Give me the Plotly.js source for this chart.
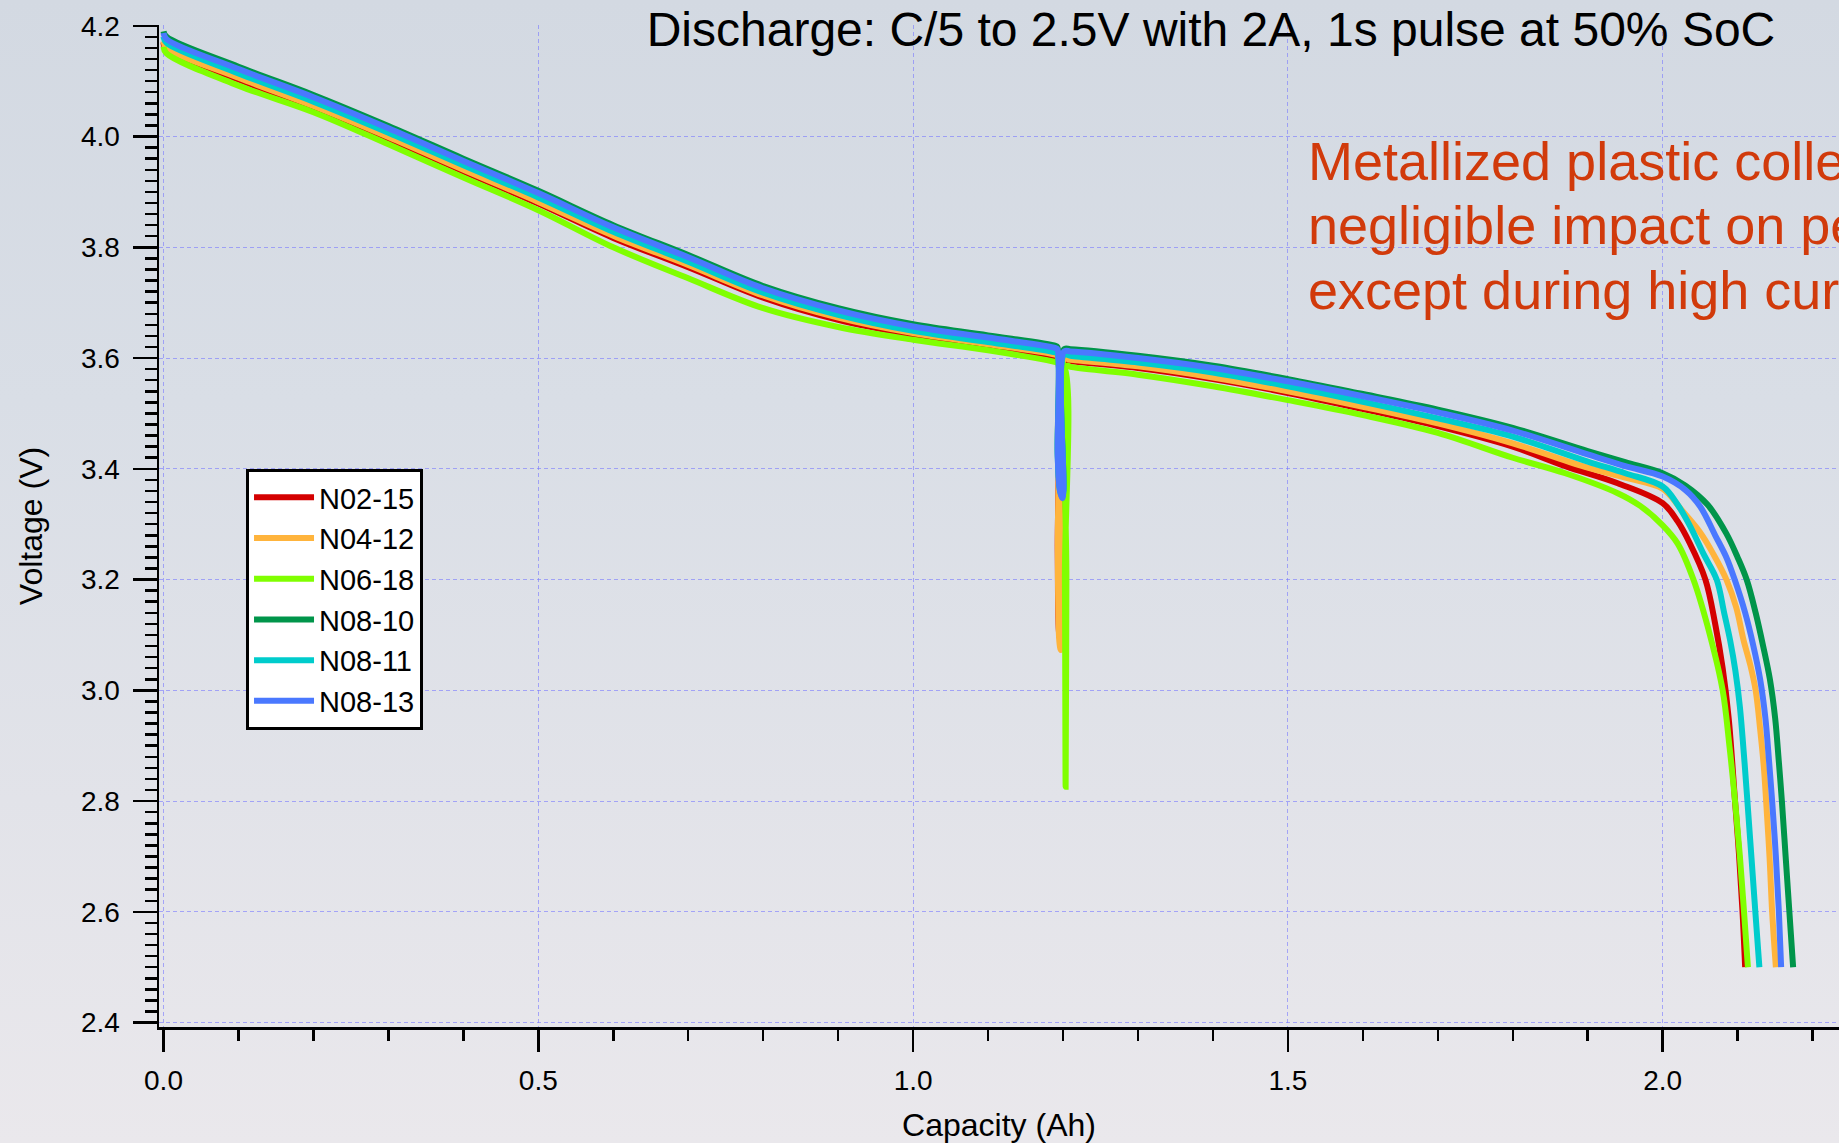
<!DOCTYPE html>
<html>
<head>
<meta charset="utf-8">
<script src="https://cdn.plot.ly/plotly-3.0.1.min.js"></script>
<style>
  html, body { margin: 0; padding: 0; overflow: hidden; }
  body { width: 1839px; height: 1143px;
    background: linear-gradient(180deg, #d3d9e2 0%, #d9dee6 35%, #e2e3e9 70%, #eae8ec 100%); }
  #chart { width: 1839px; height: 1143px; }
</style>
</head>
<body>
<div id="chart"></div>
<script>
// ---- data ----
const seriesNames = ["N02-15", "N04-12", "N06-18", "N08-10", "N08-11", "N08-13"];

const capN0215 = [0, 0.004, 0.1, 0.2, 0.3, 0.4, 0.5, 0.6, 0.7, 0.8, 0.9, 1.0, 1.1, 1.19, 1.1925, 1.193, 1.195, 1.197, 1.199, 1.2015, 1.21, 1.3, 1.4, 1.5, 1.6, 1.7, 1.8, 1.87, 1.94, 2.0, 2.02, 2.036, 2.057, 2.07, 2.08, 2.088, 2.0965, 2.102, 2.1065, 2.11];
const voltN0215 = [4.17, 4.157, 4.103, 4.052, 3.996, 3.937, 3.879, 3.817, 3.764, 3.709, 3.669, 3.642, 3.622, 3.603, 3.601, 3.25, 3.10, 3.09, 3.10, 3.595, 3.594, 3.582, 3.562, 3.537, 3.508, 3.477, 3.44, 3.405, 3.374, 3.338, 3.305, 3.266, 3.2, 3.12, 3.04, 2.95, 2.8, 2.7, 2.6, 2.5];

const capN0412 = [0, 0.004, 0.1, 0.2, 0.3, 0.4, 0.5, 0.6, 0.7, 0.8, 0.9, 1.0, 1.1, 1.19, 1.1925, 1.193, 1.195, 1.197, 1.199, 1.2015, 1.21, 1.3, 1.4, 1.5, 1.6, 1.7, 1.8, 1.9, 1.95, 2.0, 2.025, 2.05, 2.068, 2.085, 2.098, 2.108, 2.117, 2.124, 2.13, 2.135, 2.138, 2.1425, 2.146, 2.151];
const voltN0412 = [4.172, 4.16, 4.106, 4.055, 3.999, 3.940, 3.882, 3.821, 3.768, 3.713, 3.673, 3.645, 3.625, 3.606, 3.604, 3.25, 3.09, 3.073, 3.09, 3.598, 3.597, 3.585, 3.565, 3.540, 3.512, 3.482, 3.446, 3.402, 3.384, 3.364, 3.326, 3.285, 3.245, 3.2, 3.15, 3.09, 3.045, 3.0, 2.93, 2.86, 2.8, 2.7, 2.6, 2.5];

const capN0618 = [0, 0.004, 0.1, 0.2, 0.3, 0.4, 0.5, 0.6, 0.7, 0.8, 0.9, 1.0, 1.1, 1.19, 1.2, 1.2025, 1.2035, 1.2045, 1.2055, 1.21, 1.3, 1.4, 1.5, 1.6, 1.7, 1.8, 1.87, 1.94, 1.97, 2.0, 2.02, 2.041, 2.063, 2.08, 2.089, 2.0965, 2.103, 2.1085, 2.1137];
const voltN0618 = [4.162, 4.150, 4.092, 4.044, 3.986, 3.926, 3.867, 3.800, 3.744, 3.690, 3.656, 3.633, 3.614, 3.593, 3.590, 3.2, 2.826, 3.2, 3.586, 3.584, 3.570, 3.549, 3.524, 3.497, 3.465, 3.420, 3.392, 3.356, 3.333, 3.298, 3.265, 3.2, 3.1, 3.0, 2.9, 2.8, 2.7, 2.6, 2.5];

const capN0810 = [0, 0.004, 0.1, 0.2, 0.3, 0.4, 0.5, 0.6, 0.7, 0.8, 0.9, 1.0, 1.1, 1.19, 1.1925, 1.193, 1.196, 1.199, 1.2005, 1.2015, 1.21, 1.3, 1.4, 1.5, 1.6, 1.7, 1.8, 1.9, 1.95, 2.0, 2.03, 2.06, 2.085, 2.1, 2.112, 2.124, 2.134, 2.143, 2.15, 2.155, 2.159, 2.164, 2.169, 2.174];
const voltN0810 = [4.19, 4.18, 4.126, 4.075, 4.019, 3.96, 3.902, 3.840, 3.786, 3.730, 3.690, 3.661, 3.641, 3.622, 3.620, 3.43, 3.365, 3.352, 3.365, 3.616, 3.616, 3.604, 3.586, 3.562, 3.535, 3.507, 3.474, 3.432, 3.412, 3.392, 3.370, 3.335, 3.283, 3.24, 3.2, 3.14, 3.08, 3.02, 2.95, 2.87, 2.8, 2.7, 2.6, 2.5];

const capN0811 = [0, 0.004, 0.1, 0.2, 0.3, 0.4, 0.5, 0.6, 0.7, 0.8, 0.9, 1.0, 1.1, 1.19, 1.1925, 1.193, 1.196, 1.199, 1.2005, 1.2015, 1.21, 1.3, 1.4, 1.5, 1.6, 1.7, 1.8, 1.9, 1.95, 2.0, 2.02, 2.036, 2.055, 2.072, 2.082, 2.09, 2.097, 2.103, 2.108, 2.113, 2.1236, 2.129];
const voltN0811 = [4.18, 4.169, 4.114, 4.063, 4.007, 3.948, 3.890, 3.828, 3.774, 3.718, 3.678, 3.649, 3.629, 3.610, 3.608, 3.42, 3.36, 3.35, 3.36, 3.606, 3.604, 3.592, 3.574, 3.549, 3.521, 3.491, 3.458, 3.413, 3.392, 3.368, 3.335, 3.298, 3.245, 3.2, 3.14, 3.09, 3.035, 2.97, 2.89, 2.8, 2.6, 2.5];

const capN0813 = [0, 0.004, 0.1, 0.2, 0.3, 0.4, 0.5, 0.6, 0.7, 0.8, 0.9, 1.0, 1.1, 1.19, 1.1925, 1.193, 1.196, 1.199, 1.2005, 1.2015, 1.21, 1.3, 1.4, 1.5, 1.6, 1.7, 1.8, 1.9, 1.95, 2.0, 2.03, 2.05, 2.07, 2.085, 2.096, 2.11, 2.121, 2.13, 2.137, 2.142, 2.146, 2.151, 2.155, 2.158];
const voltN0813 = [4.187, 4.176, 4.122, 4.071, 4.015, 3.956, 3.898, 3.836, 3.782, 3.726, 3.686, 3.657, 3.637, 3.618, 3.616, 3.42, 3.36, 3.347, 3.36, 3.612, 3.612, 3.600, 3.582, 3.558, 3.531, 3.502, 3.469, 3.426, 3.405, 3.386, 3.362, 3.332, 3.28, 3.24, 3.2, 3.14, 3.08, 3.02, 2.95, 2.87, 2.8, 2.7, 2.6, 2.5];

const xTickVals = [0, 0.5, 1.0, 1.5, 2.0];
const xTickText = ["0.0", "0.5", "1.0", "1.5", "2.0"];
const yTickVals = [2.4, 2.6, 2.8, 3.0, 3.2, 3.4, 3.6, 3.8, 4.0, 4.2];
const yTickText = ["2.4", "2.6", "2.8", "3.0", "3.2", "3.4", "3.6", "3.8", "4.0", "4.2"];

const titleText = "Discharge: C/5 to 2.5V with 2A, 1s pulse at 50% SoC";
const noteLines = ["Metallized plastic colle", "negligible impact on pe", "except during high curr"];

// ---- styling ----
const colors = ["#d40000", "#ffb43c", "#80ff00", "#00954a", "#00cccc", "#4a78ff"];
const caps = [capN0215, capN0412, capN0618, capN0810, capN0811, capN0813];
const volts = [voltN0215, voltN0412, voltN0618, voltN0810, voltN0811, voltN0813];
const FONT = "'Liberation Sans', Arial, Helvetica, sans-serif";

const traces = seriesNames.map((name, i) => ({
  type: "scatter", mode: "lines", name: name,
  x: caps[i], y: volts[i],
  line: { color: colors[i], width: 6, shape: "spline", smoothing: 1.0 },
  hoverinfo: "skip"
}));

const gridColor = "rgba(120,120,255,0.6)";

const noteY = [0.8646, 0.8004, 0.7358];
const annotations = noteLines.map((t, i) => ({
  text: t, xref: "paper", yref: "paper", x: 0.6827, y: noteY[i],
  xanchor: "left", yanchor: "middle", showarrow: false,
  font: { family: FONT, size: 54, color: "#d13a0b" }
}));

const layout = {
  width: 1839, height: 1143,
  margin: { l: 159, r: 0, t: 25, b: 116 },
  paper_bgcolor: "rgba(0,0,0,0)",
  plot_bgcolor: "rgba(0,0,0,0)",
  font: { family: FONT, color: "#000" },
  title: {
    text: titleText, font: { family: FONT, size: 48, color: "#000" },
    xref: "container", yref: "container", x: 0.6585, y: 0.9746,
    xanchor: "center", yanchor: "middle"
  },
  xaxis: {
    range: [-0.006, 2.2352], autorange: false,
    tickmode: "array", tickvals: xTickVals, ticktext: xTickText,
    ticks: "outside", ticklen: 22, tickwidth: 2.5, tickcolor: "#000",
    minor: { dtick: 0.1, tick0: 0, ticks: "outside", ticklen: 11, tickwidth: 2.5, tickcolor: "#000", showgrid: false },
    showline: true, linecolor: "#000", linewidth: 2.5,
    showgrid: true, gridcolor: gridColor, gridwidth: 1, griddash: "4px,3px",
    zeroline: false,
    tickfont: { family: FONT, size: 28, color: "#000" },
    ticklabelstandoff: 5,
    title: { text: "Capacity (Ah)", font: { family: FONT, size: 32, color: "#000" }, standoff: 19 },
    automargin: false
  },
  yaxis: {
    range: [2.3921, 4.2014], autorange: false,
    tickmode: "array", tickvals: yTickVals, ticktext: yTickText,
    ticks: "outside", ticklen: 24, tickwidth: 2.5, tickcolor: "#000",
    minor: { dtick: 0.02, tick0: 2.4, ticks: "outside", ticklen: 12, tickwidth: 2.5, tickcolor: "#000", showgrid: false },
    showline: true, linecolor: "#000", linewidth: 2.5,
    showgrid: true, gridcolor: gridColor, gridwidth: 1, griddash: "4px,3px",
    zeroline: false,
    tickfont: { family: FONT, size: 28, color: "#000" },
    ticklabelstandoff: 7,
    title: { text: "Voltage (V)", font: { family: FONT, size: 32, color: "#000" }, standoff: 29 },
    automargin: false
  },
  showlegend: true,
  legend: {
    x: 0.0518, y: 0.5569, xanchor: "left", yanchor: "top",
    bgcolor: "#ffffff", bordercolor: "#000", borderwidth: 3,
    font: { family: FONT, size: 29, color: "#000" },
    itemwidth: 60, tracegroupgap: 0
  },
  annotations: annotations
};

Plotly.newPlot("chart", traces, layout, { displayModeBar: false, staticPlot: true });
</script>
</body>
</html>
